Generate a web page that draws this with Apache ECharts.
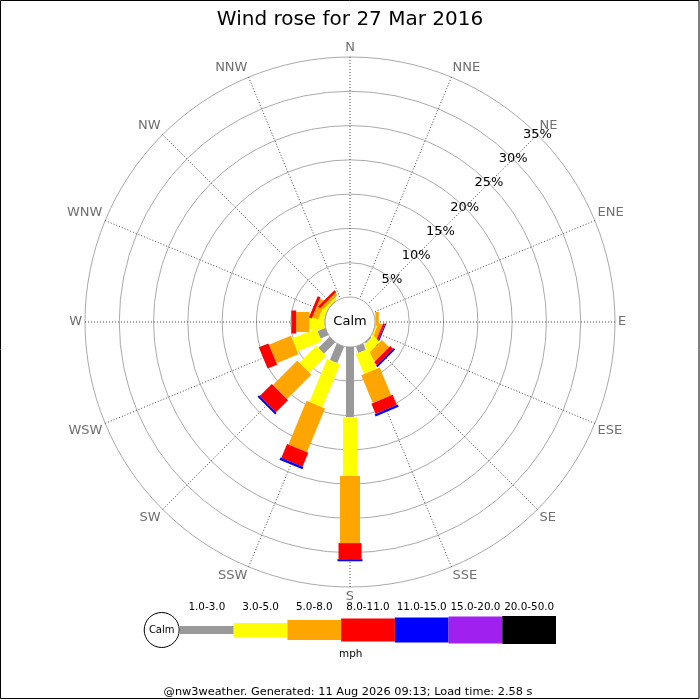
<!DOCTYPE html>
<html>
<head>
<meta charset="utf-8">
<script src="https://cdn.jsdelivr.net/npm/echarts@6/dist/echarts.min.js"></script>
<style>
html,body{margin:0;padding:0;background:#fff;}
#chart{width:700px;height:700px;}
</style>
</head>
<body>
<div id="chart"></div>
<script>
// ---- data ----
const titleText = 'Wind rose for 27 Mar 2016';
const footerText = '@nw3weather. Generated: 11 Aug 2026 09:13; Load time: 2.58 s';
const unitText = 'mph';
const calmText = 'Calm';
const directions = ['N','NNE','NE','ENE','E','ESE','SE','SSE','S','SSW','SW','WSW','W','WNW','NW','NNW'];
const speedBins = ['1.0-3.0','3.0-5.0','5.0-8.0','8.0-11.0','11.0-15.0','15.0-20.0','20.0-50.0'];
const radiusTicks = {min: 0, max: 35, step: 5};
// percent of time per direction (compass order N..NNW), one array per speed bin
const speed1to3   = [0,0,0,0,0,   0.1, 0.2, 1.0, 10.25,2.6, 2.3, 1.25,0.1, 0.1, 0.1, 0];
const speed3to5   = [0,0,0,0,0.05,0.2, 1.3, 3.15,8.55, 6.8, 3.5, 3.85,2.2, 0.7, 0.3, 0];
const speed5to8   = [0,0,0,0,0.5, 0.6, 1.5, 4.4, 9.8,  6.9, 5.0, 3.45,1.9, 0.9, 0.45,0];
const speed8to11  = [0,0,0,0,0,   0.3, 0.55,1.6, 2.35, 2.2, 2.5, 1.5, 0.7, 0.45,0.4, 0];
const speed11to15 = [0,0,0,0,0,   0.15,0.3, 0.35,0.3,  0.35,0.3, 0,   0,   0,   0,   0];
const speed15to20 = [0,0,0,0,0,   0,   0,   0,   0,    0,   0,   0,   0,   0,   0,   0];
const speed20to50 = [0,0,0,0,0,   0,   0,   0,   0,    0,   0,   0,   0,   0,   0,   0];

// ---- styles ----
const binColors = ['#999999','#ffff00','#ffa500','#ff0000','#0000ff','#a020f0','#000000'];
const binWidths = [8,14,20,23,25,27,28];
const FONT = 'DejaVu Sans';

const seriesByBin = [speed1to3, speed3to5, speed5to8, speed8to11, speed11to15, speed15to20, speed20to50];
// angle axis (value, degrees) starts at NE so the radius labels run along NE
const sector = 360 / directions.length;
const angleOffset = 45;
const bearingToAxis = (k) => ((k * sector - angleOffset) % 360 + 360) % 360;

const barData = [];
directions.forEach((d, k) => {
  let c = 0;
  seriesByBin.forEach((arr, b) => {
    const v = arr[k];
    if (v > 0) {
      barData.push([c, bearingToAxis(k), c + v, b]);
      c += v;
    }
  });
});

function renderBar(params, api) {
  const start = api.value(0), ang = api.value(1), end = api.value(2), b = api.value(3);
  const cs = params.coordSys;
  const p0 = api.coord([start, ang]);
  const p1 = api.coord([end, ang]);
  let ux = p0[0] - cs.cx, uy = p0[1] - cs.cy;
  const L = Math.hypot(ux, uy) || 1;
  ux /= L; uy /= L;
  const nx = -uy, ny = ux, h = binWidths[b] / 2;
  return {
    type: 'polygon',
    shape: {points: [
      [p0[0] + nx*h, p0[1] + ny*h],
      [p1[0] + nx*h, p1[1] + ny*h],
      [p1[0] - nx*h, p1[1] - ny*h],
      [p0[0] - nx*h, p0[1] - ny*h]
    ]},
    style: {fill: binColors[b]}
  };
}

// legend graphics
const legendX0 = 180, legendX1 = 556, legendY = 630;
const step = (legendX1 - legendX0) / speedBins.length;
const graphics = [
  {type: 'rect', shape: {x: 0.5, y: 0.5, width: 698.5, height: 698}, style: {fill: 'none', stroke: '#000', lineWidth: 1}, z: 100},
  {type: 'text', x: 350, y: 322, style: {text: calmText, align: 'center', verticalAlign: 'middle', font: '13px "DejaVu Sans"', fill: '#000'}, z: 100},
  {type: 'circle', shape: {cx: 161.7, cy: legendY, r: 17.5}, style: {fill: '#fff', stroke: '#000', lineWidth: 1}, z: 100},
  {type: 'text', x: 161.7, y: legendY, style: {text: calmText, align: 'center', verticalAlign: 'middle', font: '10px "DejaVu Sans"', fill: '#000'}, z: 101},
  {type: 'text', x: 350.7, y: 654, style: {text: unitText, align: 'center', verticalAlign: 'middle', font: '10.4px "DejaVu Sans"', fill: '#000'}, z: 100},
  {type: 'text', x: 348, y: 692.5, style: {text: footerText, align: 'center', verticalAlign: 'middle', font: '11.3px "DejaVu Sans"', fill: '#000'}, z: 100}
];
speedBins.forEach((lab, i) => {
  const x = legendX0 + i * step;
  graphics.push({type: 'rect', shape: {x: x, y: legendY - binWidths[i] / 2, width: step, height: binWidths[i]}, style: {fill: binColors[i]}, z: 99});
  graphics.push({type: 'text', x: x + step / 2, y: 607, style: {text: lab, align: 'center', verticalAlign: 'middle', font: '10.4px "DejaVu Sans"', fill: '#000'}, z: 100});
});

const chart = echarts.init(document.getElementById('chart'), null, {renderer: 'canvas'});
chart.setOption({
  animation: false,
  backgroundColor: '#fff',
  textStyle: {fontFamily: FONT},
  title: {
    text: titleText, left: 'center', top: 5,
    textStyle: {fontFamily: FONT, fontSize: 20, fontWeight: 'normal', color: '#000'}
  },
  polar: {center: [350, 322], radius: [25, 265]},
  angleAxis: {
    type: 'value',
    min: 0, max: 360, interval: sector,
    startAngle: angleOffset,
    clockwise: true,
    axisLine: {show: false},
    axisTick: {show: false},
    axisLabel: {
      color: '#707070', fontSize: 13, fontFamily: FONT, margin: 3,
      formatter: (v) => v >= 360 ? '' : directions[Math.round((v + angleOffset) / sector) % directions.length]
    },
    splitLine: {show: true, lineStyle: {color: '#444', width: 1, type: [1, 2]}},
    z: 1
  },
  radiusAxis: {
    type: 'value',
    min: radiusTicks.min, max: radiusTicks.max, interval: radiusTicks.step,
    axisLine: {show: false},
    axisTick: {show: false},
    axisLabel: {
      formatter: '{value}%', color: '#000', fontSize: 13, fontFamily: FONT,
      margin: 0, align: 'center', verticalAlign: 'middle', showMinLabel: false
    },
    splitLine: {show: true, lineStyle: {color: '#aaaaaa', width: 1}},
    z: 1
  },
  series: [{
    type: 'custom',
    coordinateSystem: 'polar',
    renderItem: renderBar,
    data: barData,
    z: 10
  }],
  graphic: graphics
});
</script>
</body>
</html>
